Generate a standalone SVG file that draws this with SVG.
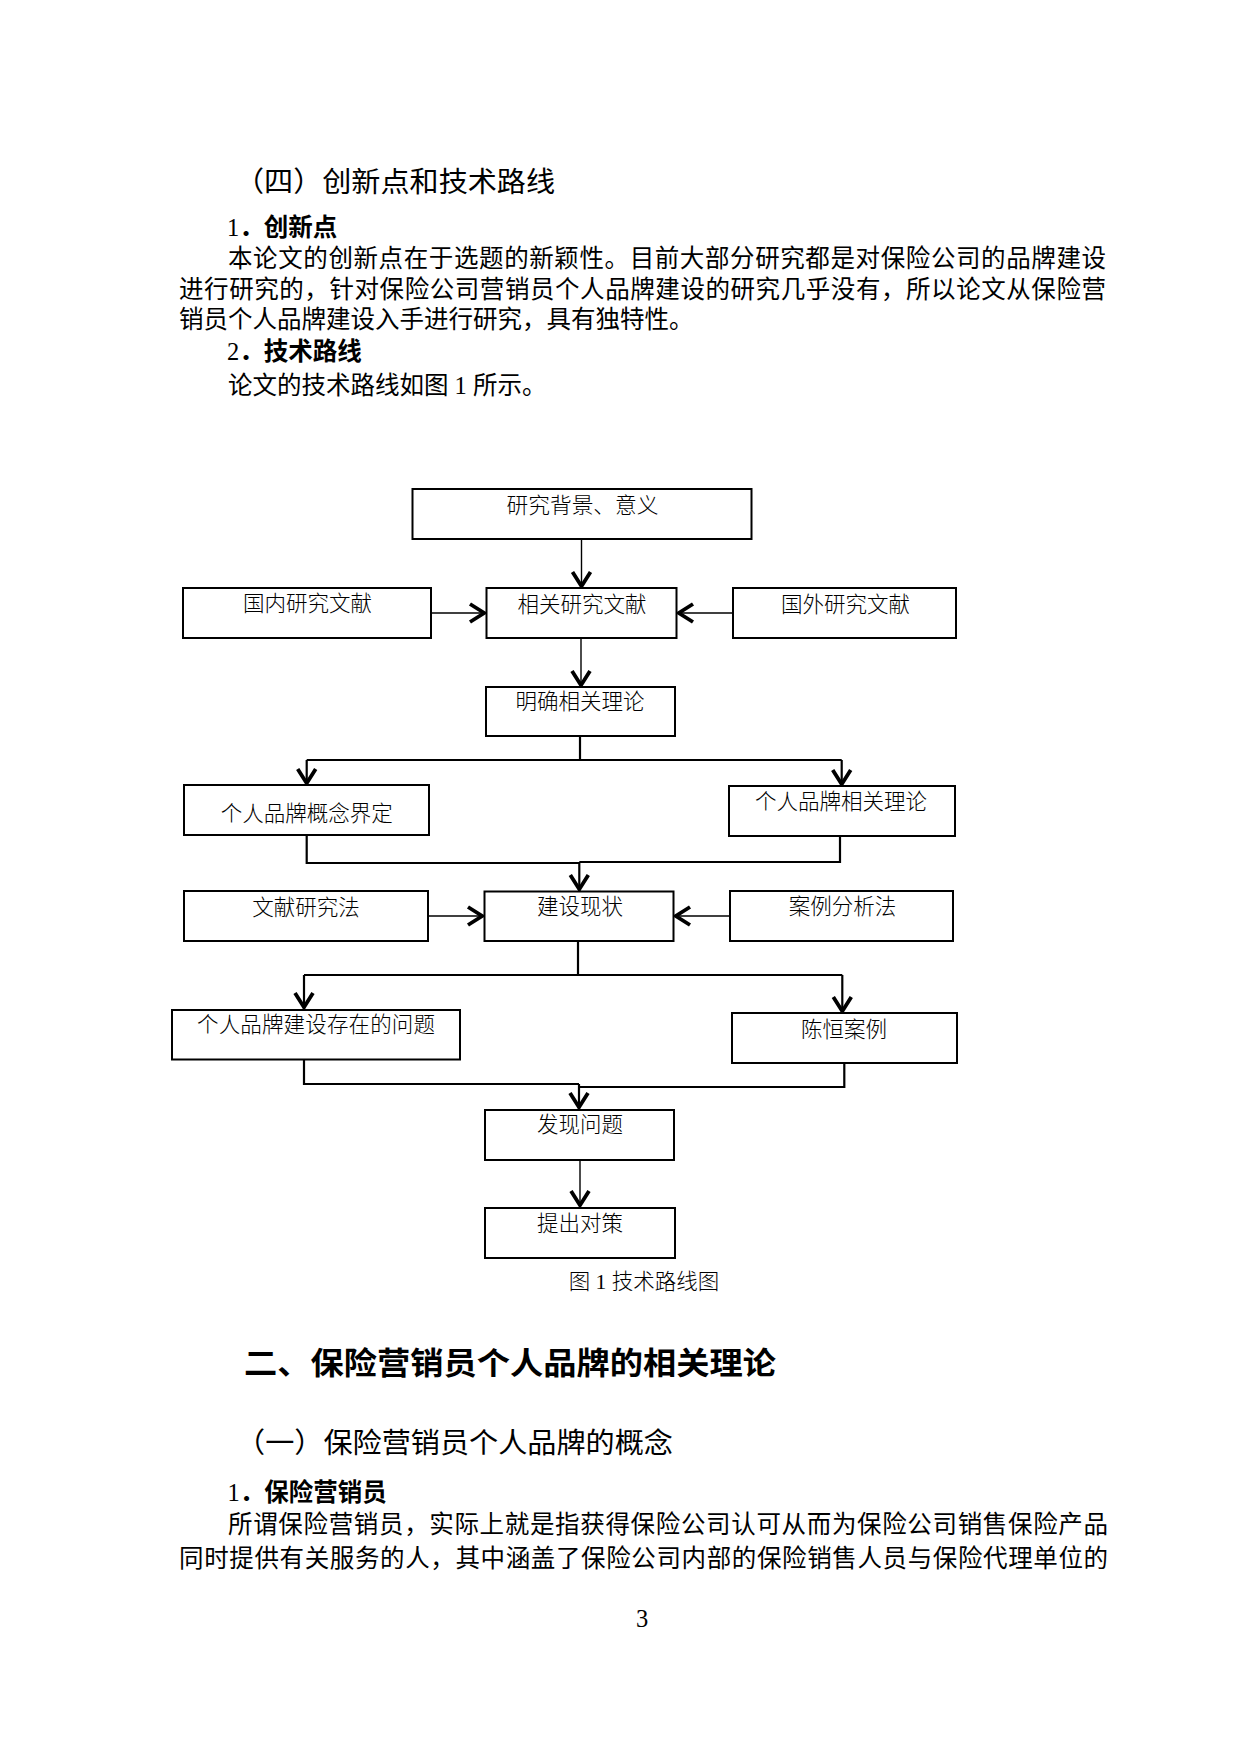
<svg xmlns="http://www.w3.org/2000/svg" width="1240" height="1754" viewBox="0 0 1240 1754">
<style>
.box{fill:#fff;stroke:#000;stroke-width:2}
.lbl{font-family:"Liberation Serif","Noto Sans CJK SC",serif;font-size:21.5px;font-weight:300;text-anchor:middle;fill:#000}
.body{font-family:"Liberation Serif","Noto Sans CJK SC",serif;font-size:24.5px;fill:#000}
.h{font-family:"Liberation Sans","Noto Sans CJK SC",sans-serif;fill:#000}
.thin{fill:none;stroke:#000;stroke-width:1.4}
.thick{fill:none;stroke:#000;stroke-width:2.2}
.arr{marker-end:url(#v)}
</style>
<defs>
<marker id="v" markerUnits="userSpaceOnUse" viewBox="-20 -12 24 24" markerWidth="24" markerHeight="24" refX="0" refY="0" orient="auto">
<path d="M-16,-9 L-1.8,0 L-16,9" fill="none" stroke="#000" stroke-width="3.8"/>
</marker>
</defs>
<rect width="1240" height="1754" fill="#fff"/>

<g id="text-top">
<text class="h" x="235" y="191.5" font-size="28" textLength="320" lengthAdjust="spacingAndGlyphs">（四）创新点和技术路线</text>
<text class="body" x="227" y="235.5" font-size="25"><tspan>1</tspan><tspan font-family="Noto Sans CJK SC, sans-serif" font-weight="bold">．创新点</tspan></text>
<text class="body" x="228" y="267" textLength="878" lengthAdjust="spacing">本论文的创新点在于选题的新颖性。目前大部分研究都是对保险公司的品牌建设</text>
<text class="body" x="179" y="297.5" textLength="927" lengthAdjust="spacing">进行研究的，针对保险公司营销员个人品牌建设的研究几乎没有，所以论文从保险营</text>
<text class="body" x="179" y="328" font-size="24.3">销员个人品牌建设入手进行研究，具有独特性。</text>
<text class="body" x="227" y="360" font-size="25"><tspan>2</tspan><tspan font-family="Noto Sans CJK SC, sans-serif" font-weight="bold">．技术路线</tspan></text>
<text class="body" x="228" y="394" font-size="24.3">论文的技术路线如图 1 所示。</text>
</g>

<g id="connectors">
<path class="thin arr" d="M581.5,539 V588"/>
<path class="thin arr" d="M431,613 H486"/>
<path class="thin arr" d="M733,613 H677"/>
<path class="thin arr" d="M581,638 V687"/>
<path class="thick" d="M580,736 V760" stroke-width="3.4"/>
<path class="thick" d="M306.7,760 H841.7"/>
<path class="thick arr" d="M306.7,760 V785"/>
<path class="thick arr" d="M841.7,760 V786"/>
<path class="thick" d="M306.7,835 V863 H579.3"/>
<path class="thick" d="M840,836 V862 H579.3"/>
<path class="thick arr" d="M579.3,862 V891"/>
<path class="thin arr" d="M428,916 H484"/>
<path class="thin arr" d="M730,916 H674"/>
<path class="thick" d="M578,941 V975"/>
<path class="thick" d="M304,975 H842.3"/>
<path class="thick arr" d="M304,975 V1009"/>
<path class="thick arr" d="M842.3,975 V1013"/>
<path class="thick" d="M304,1059 V1084 H579"/>
<path class="thick" d="M844.3,1063 V1087 H579"/>
<path class="thick arr" d="M579,1084 V1109"/>
<path class="thin arr" d="M580,1160 V1207"/>
</g>

<g id="n1"><rect class="box" x="412.5" y="489" width="339" height="50"/><text class="lbl" x="582.5" y="513" textLength="152" lengthAdjust="spacingAndGlyphs">研究背景、意义</text></g>
<g id="n2"><rect class="box" x="183" y="588" width="248" height="50"/><text class="lbl" x="307.5" y="611">国内研究文献</text></g>
<g id="n3"><rect class="box" x="486.5" y="588" width="190" height="50"/><text class="lbl" x="582" y="612">相关研究文献</text></g>
<g id="n4"><rect class="box" x="733" y="588" width="223" height="50"/><text class="lbl" x="845.5" y="611.5">国外研究文献</text></g>
<g id="n5"><rect class="box" x="486" y="687" width="189" height="49"/><text class="lbl" x="580" y="709">明确相关理论</text></g>
<g id="n6"><rect class="box" x="184" y="785" width="245" height="50"/><text class="lbl" x="306.7" y="820.5">个人品牌概念界定</text></g>
<g id="n7"><rect class="box" x="729" y="786" width="226" height="50"/><text class="lbl" x="841" y="809">个人品牌相关理论</text></g>
<g id="n8"><rect class="box" x="184" y="891" width="244" height="50"/><text class="lbl" x="306" y="914.5">文献研究法</text></g>
<g id="n9"><rect class="box" x="484.5" y="891.5" width="189" height="49.5"/><text class="lbl" x="580" y="914">建设现状</text></g>
<g id="n10"><rect class="box" x="730" y="891" width="223" height="50"/><text class="lbl" x="842.5" y="914">案例分析法</text></g>
<g id="n11"><rect class="box" x="172" y="1010" width="288" height="49.5"/><text class="lbl" x="316" y="1032" textLength="238" lengthAdjust="spacing">个人品牌建设存在的问题</text></g>
<g id="n12"><rect class="box" x="732" y="1013" width="225" height="50"/><text class="lbl" x="844" y="1036.5">陈恒案例</text></g>
<g id="n13"><rect class="box" x="485" y="1110" width="189" height="50"/><text class="lbl" x="580" y="1132">发现问题</text></g>
<g id="n14"><rect class="box" x="485" y="1208" width="190" height="50"/><text class="lbl" x="580" y="1230.5">提出对策</text></g>

<g id="text-bottom">
<text class="lbl" x="644" y="1289" font-size="21" font-weight="normal">图 1 技术路线图</text>
<text class="h" x="244" y="1374" font-size="31" font-weight="bold" textLength="532" lengthAdjust="spacingAndGlyphs">二、保险营销员个人品牌的相关理论</text>
<text class="h" x="236" y="1452.5" font-size="28" textLength="437" lengthAdjust="spacingAndGlyphs">（一）保险营销员个人品牌的概念</text>
<text class="body" x="227.5" y="1501" font-size="25"><tspan>1</tspan><tspan font-family="Noto Sans CJK SC, sans-serif" font-weight="bold">．保险营销员</tspan></text>
<text class="body" x="228" y="1532.5" textLength="880" lengthAdjust="spacing">所谓保险营销员，实际上就是指获得保险公司认可从而为保险公司销售保险产品</text>
<text class="body" x="179" y="1566.5" textLength="929" lengthAdjust="spacing">同时提供有关服务的人，其中涵盖了保险公司内部的保险销售人员与保险代理单位的</text>
<text class="body" x="642" y="1627" font-size="21" text-anchor="middle">3</text>
</g>
</svg>
